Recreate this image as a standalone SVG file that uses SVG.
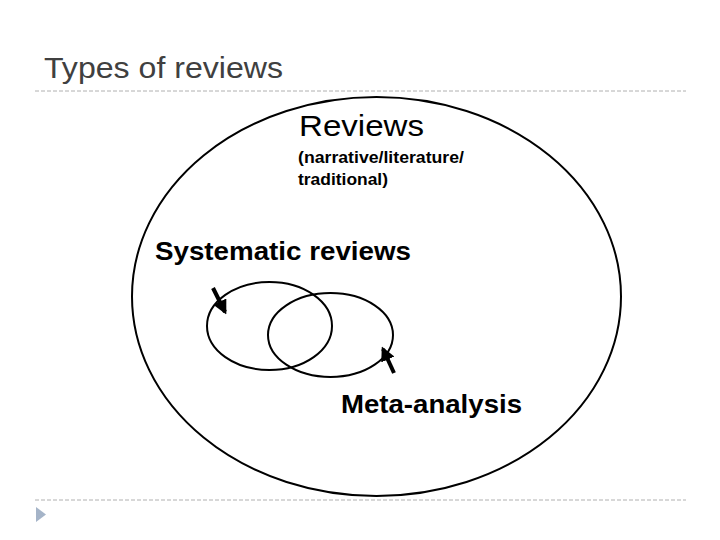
<svg xmlns="http://www.w3.org/2000/svg" width="720" height="540" viewBox="0 0 720 540">
<defs>
<style>
.rule{stroke:#b0b0b0;stroke-width:1;stroke-dasharray:4,2;fill:none}
.ring{fill:none;stroke:#000;stroke-width:2}
.arr{stroke:#000;stroke-width:4;fill:none}
.t{font-family:"Liberation Sans",Arial,sans-serif;fill:#000}
.b{font-weight:bold}
</style>
<marker id="ah" viewBox="0 0 10 10" refX="8" refY="5" markerWidth="3.6" markerHeight="3.6" orient="auto" markerUnits="strokeWidth">
<path d="M0,0 L10,5 L0,10 z" fill="#000"/>
</marker>
</defs>
<rect width="720" height="540" fill="#fff"/>
<text class="t" x="44" y="78" font-size="29" style="fill:#404040" textLength="239" lengthAdjust="spacingAndGlyphs">Types of reviews</text>
<line class="rule" x1="35" y1="91" x2="686" y2="91"/>
<line class="rule" x1="35" y1="500" x2="686" y2="500"/>
<polygon points="36,507 46,514.5 36,522" fill="#a5b4c8"/>
<g id="reviews">
<ellipse class="ring" cx="376.5" cy="296.5" rx="244.5" ry="199.5"/>
<text class="t" x="299" y="136" font-size="29" textLength="125" lengthAdjust="spacingAndGlyphs">Reviews</text>
<text class="t b" x="298" y="163" font-size="17" textLength="166" lengthAdjust="spacingAndGlyphs">(narrative/literature/</text>
<text class="t b" x="298" y="185" font-size="17" textLength="90" lengthAdjust="spacingAndGlyphs">traditional)</text>
</g>
<g id="systematic">
<ellipse class="ring" cx="269.5" cy="326" rx="62.5" ry="44"/>
<text class="t b" x="155" y="260" font-size="26" textLength="256" lengthAdjust="spacingAndGlyphs">Systematic reviews</text>
</g>
<g id="meta">
<ellipse class="ring" cx="330.5" cy="335" rx="62.5" ry="42"/>
<text class="t b" x="341" y="413" font-size="25" textLength="181" lengthAdjust="spacingAndGlyphs">Meta-analysis</text>
</g>
<g id="connectors">
<line class="arr" x1="213" y1="288" x2="225" y2="312" marker-end="url(#ah)"/>
<line class="arr" x1="394" y1="373" x2="383" y2="349" marker-end="url(#ah)"/>
</g>
</svg>
